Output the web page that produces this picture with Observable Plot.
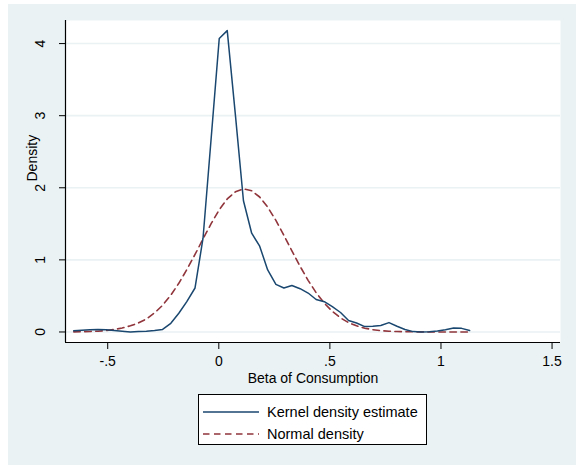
<!DOCTYPE html>
<html>
<head>
<meta charset="utf-8">
<script src="https://cdn.jsdelivr.net/npm/d3@7"></script>
<script src="https://cdn.jsdelivr.net/npm/@observablehq/plot@0.6"></script>
<style>
  html, body { margin: 0; padding: 0; background: #ffffff; }
  #wrap { position: relative; width: 576px; height: 465px; background: #ffffff; overflow: hidden;
          font-family: Arial, "Liberation Sans", sans-serif; }
  #panel { position: absolute; left: 8px; top: 4px; width: 568px; height: 461px; background: #eaf2f3; }
  #chart { position: absolute; left: 0; top: 0; }
  #legend { position: absolute; left: 198px; top: 394px; width: 227px; height: 49px;
            background: #ffffff; border: 1px solid #000000; }
  .lrow { position: absolute; left: 0; height: 20px; width: 227px; }
  .lrow svg { position: absolute; left: 4px; top: 5px; }
  .lrow span { position: absolute; left: 68px; top: 1px; font-size: 14.5px; color: #000; line-height: 18px; white-space: nowrap; }
</style>
</head>
<body>
<div id="wrap">
  <div id="panel"></div>
  <div id="chart"></div>
  <div id="legend"></div>
</div>
<script>
// ---- data ----
const gridX = [-0.653,-0.617,-0.580,-0.544,-0.507,-0.471,-0.435,-0.398,-0.362,-0.326,
  -0.289,-0.253,-0.216,-0.180,-0.144,-0.107,-0.071,-0.034,0.002,0.038,
  0.075,0.111,0.148,0.184,0.220,0.257,0.293,0.329,0.366,0.402,
  0.438,0.475,0.511,0.548,0.584,0.620,0.657,0.693,0.729,0.766,
  0.802,0.838,0.875,0.911,0.948,0.984,1.020,1.057,1.093,1.129];

const kernelDensity = [0.017,0.025,0.03,0.035,0.03,0.02,0.01,0.0,0.005,0.01,
  0.02,0.035,0.12,0.26,0.42,0.61,1.30,2.70,4.07,4.18,
  3.00,1.82,1.37,1.19,0.86,0.66,0.61,0.645,0.60,0.54,
  0.45,0.42,0.35,0.27,0.16,0.125,0.075,0.08,0.09,0.13,
  0.08,0.035,0.005,0.0,0.003,0.012,0.03,0.055,0.05,0.02];

const normalDensity = [0.002,0.004,0.007,0.011,0.02,0.034,0.055,0.085,0.125,0.18,
  0.265,0.37,0.51,0.675,0.865,1.075,1.29,1.505,1.695,1.845,
  1.945,1.985,1.958,1.872,1.732,1.547,1.341,1.126,0.91,0.716,
  0.546,0.399,0.285,0.195,0.13,0.085,0.052,0.032,0.019,0.01,
  0.006,0.003,0.002,0.001,0,0,0,0,0,0];

const xTicks = [-0.5, 0, 0.5, 1, 1.5];
const xTickLabels = ["-.5", "0", ".5", "1", "1.5"];
const yTicks = [0, 1, 2, 3, 4];
const yTickLabels = ["0", "1", "2", "3", "4"];
const xTitle = "Beta of Consumption";
const yTitle = "Density";
const seriesNames = ["Kernel density estimate", "Normal density"];
const seriesColors = ["#1a476f", "#90353b"];

// ---- build ----
const xDomain = [-0.690, 1.538];
const yDomain = [-0.146, 4.32];
const kernel = gridX.map((x, i) => ({x, y: kernelDensity[i]}));
const normal = gridX.map((x, i) => ({x, y: normalDensity[i]}));
const xLab = new Map(xTicks.map((t, i) => [t, xTickLabels[i]]));
const yLab = new Map(yTicks.map((t, i) => [t, yTickLabels[i]]));

const chart = Plot.plot({
  width: 576,
  height: 390,
  marginLeft: 65,
  marginRight: 16,
  marginTop: 20,
  marginBottom: 48,
  style: {background: "transparent", fontFamily: "Arial, 'Liberation Sans', sans-serif", fontSize: "14px", color: "#000", overflow: "visible"},
  x: {domain: xDomain},
  y: {domain: yDomain},
  marks: [
    Plot.frame({fill: "#ffffff", stroke: "none"}),
    Plot.gridY(yTicks, {stroke: "#eaf2f3", strokeOpacity: 1, strokeWidth: 1.6}),
    Plot.line(normal, {x: "x", y: "y", stroke: seriesColors[1], strokeWidth: 1.6, strokeDasharray: "6.5,4.5"}),
    Plot.line(kernel, {x: "x", y: "y", stroke: seriesColors[0], strokeWidth: 1.5}),
    Plot.ruleX([xDomain[0]], {stroke: "#000", strokeWidth: 1.2}),
    Plot.ruleY([yDomain[0]], {stroke: "#000", strokeWidth: 1.2}),
    Plot.axisY({ticks: yTicks, tickSize: 6, tickFormat: () => "", label: null, stroke: "#000"}),
    Plot.text(yTicks, {y: d => d, text: d => yLab.get(d), frameAnchor: "left", dx: -25, rotate: -90,
      textAnchor: "middle", lineAnchor: "middle", fontSize: 14, fill: "#000"}),
    Plot.axisX({ticks: xTicks, tickSize: 7, tickPadding: 7, tickFormat: d => xLab.get(d), label: null,
      stroke: "#000", fontSize: 14, fill: "#000"}),
    Plot.text([xTitle], {frameAnchor: "bottom", dy: 36, lineAnchor: "middle", fontSize: 14, fill: "#000"}),
    Plot.text([yTitle], {frameAnchor: "left", dx: -33, rotate: -90, lineAnchor: "middle", fontSize: 14, fill: "#000"})
  ]
});
document.getElementById("chart").appendChild(chart);

// ---- legend ----
const legend = document.getElementById("legend");
const dashes = [null, "6.5,4.5"];
seriesNames.forEach((name, i) => {
  const row = document.createElement("div");
  row.className = "lrow";
  row.style.top = (7 + i * 22) + "px";
  const ns = "http://www.w3.org/2000/svg";
  const svg = document.createElementNS(ns, "svg");
  svg.setAttribute("width", "56");
  svg.setAttribute("height", "10");
  const ln = document.createElementNS(ns, "line");
  ln.setAttribute("x1", "0"); ln.setAttribute("x2", "56");
  ln.setAttribute("y1", "5"); ln.setAttribute("y2", "5");
  ln.setAttribute("stroke", seriesColors[i]);
  ln.setAttribute("stroke-width", "1.6");
  if (dashes[i]) ln.setAttribute("stroke-dasharray", dashes[i]);
  svg.appendChild(ln);
  const sp = document.createElement("span");
  sp.textContent = name;
  row.appendChild(svg);
  row.appendChild(sp);
  legend.appendChild(row);
});
</script>
</body>
</html>
